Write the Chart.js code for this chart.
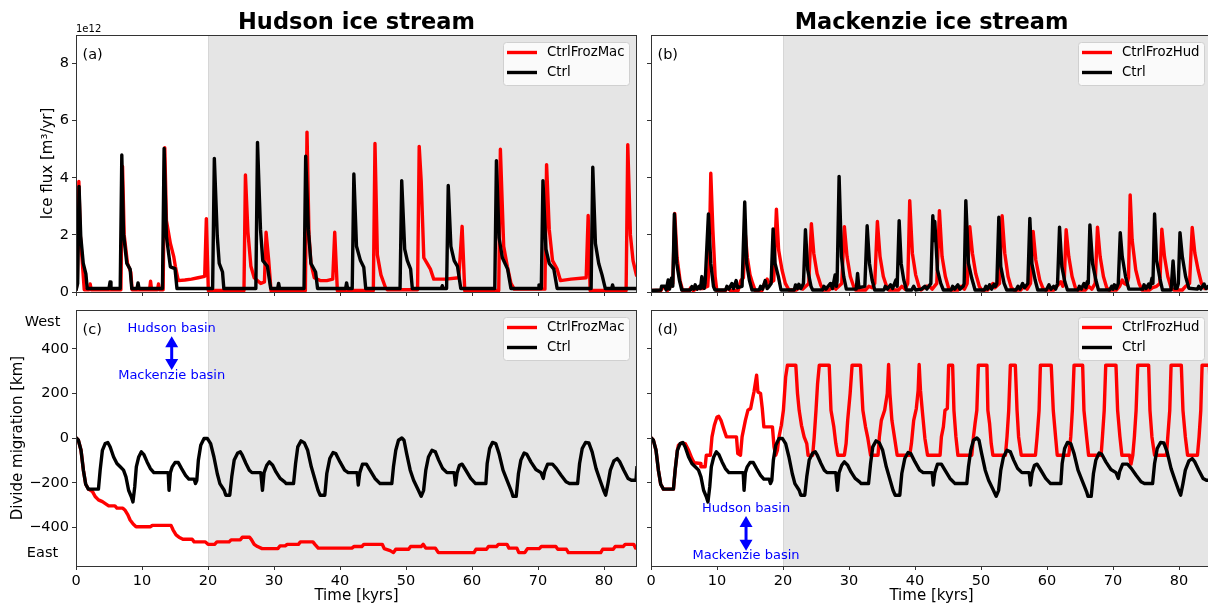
<!doctype html>
<html>
<head>
<meta charset="utf-8">
<title>Hudson and Mackenzie ice streams</title>
<script src="https://cdn.jsdelivr.net/npm/chart.js"></script>
<style>
html,body{margin:0;padding:0;background:#fff;overflow:hidden;width:1208px;height:605px}
canvas{position:absolute;left:0;top:0}
</style>
</head>
<body>
<canvas id="pa" width="1214" height="605"></canvas>
<canvas id="pb" width="1214" height="605"></canvas>
<canvas id="pc" width="1214" height="605"></canvas>
<canvas id="pd" width="1214" height="605"></canvas>
<script>
// time in kyrs, flux in 1e12 m3/yr, divide position in km
const hudFluxCtrl = [[0,0.05],[0.25,0.3],[0.46,3.7],[0.72,1.95],[1.1,1.0],[1.5,0.63],[1.7,0.12],
  [5.0,0.12],[5.16,0.35],[5.3,0.12],[6.7,0.12],[6.94,4.8],[7.2,2.05],[7.7,1.0],[8.2,0.8],[8.45,0.12],
  [9.25,0.12],[9.4,0.32],[9.55,0.12],[13.1,0.12],[13.35,5.03],[13.7,1.94],[14.3,0.88],[15.0,0.82],[15.3,0.12],
  [20.7,0.12],[20.96,4.68],[21.4,1.97],[21.7,1.0],[22.2,0.7],[22.4,0.12],
  [27.25,0.12],[27.5,5.24],[27.95,2.2],[28.3,1.1],[29.0,0.9],[29.5,0.12],[30.55,0.12],[30.7,0.3],[30.85,0.12],
  [34.55,0.12],[34.8,4.76],[35.2,2.2],[35.6,1.0],[36.3,0.7],[36.6,0.12],[40.85,0.12],[41.0,0.32],[41.15,0.12],
  [41.85,0.12],[42.1,4.13],[42.5,1.6],[43.1,1.1],[43.6,0.87],[43.9,0.12],
  [49.1,0.12],[49.35,3.9],[49.8,1.5],[50.2,1.1],[50.7,0.8],[50.96,0.12],[55.35,0.12],[55.5,0.22],[55.65,0.12],
  [56.15,0.12],[56.4,3.73],[56.8,1.6],[57.3,1.1],[57.8,0.9],[58.3,0.12],
  [63.45,0.12],[63.7,4.6],[64.1,1.9],[64.6,1.2],[65.4,0.8],[65.9,0.12],[70.0,0.12],[70.15,0.25],[70.3,0.12],
  [70.5,0.12],[70.75,3.9],[71.2,1.5],[71.7,1.0],[72.4,0.8],[72.9,0.12],
  [78.05,0.12],[78.3,4.37],[78.7,1.7],[79.2,1.0],[79.7,0.6],[80.2,0.12],[81.15,0.12],[81.3,0.25],[81.45,0.12],[85,0.12]];

const hudFluxFrozMac = [[0,0.05],[0.2,0.4],[0.43,3.87],[0.65,2.0],[0.9,1.2],[1.25,0.08],
  [2.0,0.08],[2.15,0.28],[2.3,0.08],[6.8,0.08],[7.05,4.4],[7.3,2.0],[7.8,1.0],[8.3,0.7],[8.5,0.08],
  [11.15,0.08],[11.3,0.38],[11.45,0.08],[12.35,0.08],[12.5,0.28],[12.65,0.08],
  [13.2,0.08],[13.45,5.05],[13.7,2.5],[14.3,1.7],[14.8,1.25],[15.05,0.9],[15.5,0.4],[16.5,0.42],[17.5,0.45],[18.5,0.5],[19.5,0.55],[19.75,2.57],[20.05,0.05],
  [25.45,0.05],[25.67,4.1],[26.05,2.1],[26.5,0.9],[27.0,0.5],[28.0,0.3],[28.55,0.35],[28.8,2.09],[29.2,1.1],[29.55,0.05],
  [34.75,0.05],[35.0,5.6],[35.3,2.0],[35.6,1.0],[36.1,0.5],[37.0,0.4],[38.0,0.4],[38.9,0.45],[39.2,2.09],[39.6,0.05],
  [45.05,0.05],[45.3,5.2],[45.66,1.3],[46.2,0.6],[46.9,0.15],[47.2,0.08],
  [51.75,0.08],[52.0,5.1],[52.3,3.9],[52.7,1.2],[53.2,1.0],[53.7,0.8],[54.2,0.45],[56.0,0.45],[58.0,0.5],[58.5,2.3],[58.9,0.05],
  [64.05,0.05],[64.3,5.0],[64.8,1.6],[65.35,0.9],[65.9,0.3],[66.4,0.1],
  [71.05,0.1],[71.3,4.46],[71.7,2.2],[72.2,1.1],[72.9,0.8],[73.4,0.4],[75.0,0.45],[77.3,0.5],[77.6,2.68],[77.9,0.05],
  [83.35,0.05],[83.6,5.16],[84.0,2.0],[84.4,1.1],[84.9,0.6],[85,0.55]];

const macFluxCtrl = [[0,0.05],[1.5,0.07],[1.6,0.2],[2.1,0.2],[2.3,0.07],[2.6,0.42],[2.8,0.1],[3.1,0.48],[3.3,0.2],[3.54,2.73],[3.9,1.0],[4.3,0.42],[4.66,0.07],
  [6.0,0.07],[6.2,0.19],[6.5,0.1],[6.7,0.25],[7.0,0.1],[7.3,0.2],[7.5,0.12],[7.7,0.54],[7.9,0.15],[8.05,0.13],[8.2,0.3],[8.7,2.73],[9.06,1.0],[9.47,0.19],[9.7,0.07],
  [11.3,0.07],[11.5,0.2],[11.8,0.1],[12.25,0.3],[12.5,0.12],[12.9,0.4],[13.1,0.15],[13.8,0.2],[14.2,3.15],[14.5,1.0],[14.9,0.42],[15.3,0.07],
  [16.4,0.07],[16.6,0.2],[16.9,0.1],[17.3,0.4],[17.6,0.12],[17.9,0.2],[18.2,0.3],[18.5,2.21],[18.8,1.0],[19.3,0.54],[19.7,0.07],
  [21.7,0.07],[21.9,0.25],[22.2,0.12],[22.4,0.27],[22.7,0.12],[23.1,0.3],[23.4,2.18],[23.75,0.77],[24.25,0.19],[24.5,0.07],
  [26.0,0.07],[26.2,0.2],[26.5,0.1],[27.2,0.3],[27.5,0.12],[27.9,0.6],[28.1,0.2],[28.2,0.4],[28.5,4.05],[28.86,1.24],[29.2,0.54],[29.6,0.1],
  [31.1,0.1],[31.3,0.65],[31.5,0.15],[32.4,0.2],[32.75,2.32],[33.1,1.0],[33.5,0.42],[33.9,0.07],
  [35.3,0.07],[35.5,0.2],[35.8,0.1],[36.3,0.25],[36.6,0.12],[37.1,0.42],[37.3,0.2],[37.6,2.5],[37.9,1.0],[38.3,0.42],[38.7,0.07],
  [39.5,0.07],[39.8,0.2],[40.1,0.07],[41.0,0.1],[41.5,0.2],[41.8,0.1],[42.4,0.3],[42.7,2.67],[42.85,1.8],[43.0,2.47],[43.4,0.77],[43.9,0.3],[44.3,0.07],
  [45.5,0.07],[45.7,0.2],[46.0,0.1],[46.5,0.25],[46.8,0.1],[47.3,0.2],[47.45,0.3],[47.7,3.2],[48.1,1.0],[48.6,0.48],[49.1,0.07],
  [50.5,0.07],[50.75,0.2],[51.0,0.1],[51.3,0.25],[51.6,0.1],[52.0,0.27],[52.2,0.2],[52.4,0.3],[52.7,2.62],[53.0,0.89],[53.5,0.3],[53.9,0.07],
  [55.3,0.07],[55.6,0.2],[55.9,0.1],[56.3,0.3],[56.6,0.15],[57.1,0.3],[57.4,2.58],[57.7,1.0],[58.2,0.42],[58.6,0.07],
  [59.9,0.07],[60.3,0.25],[60.6,0.1],[61.0,0.2],[61.3,0.1],[61.6,0.3],[61.9,2.27],[62.25,0.89],[62.7,0.36],[63.1,0.07],
  [64.7,0.07],[64.9,0.2],[65.2,0.1],[65.6,0.3],[65.9,0.15],[66.1,0.36],[66.25,0.3],[66.5,2.35],[66.9,1.0],[67.4,0.42],[67.8,0.07],
  [69.5,0.07],[69.8,0.2],[70.0,0.1],[70.2,0.25],[70.5,0.12],[70.8,0.3],[71.1,2.08],[71.4,1.24],[71.9,0.54],[72.4,0.1],
  [74.5,0.1],[74.7,0.25],[75.0,0.12],[75.4,0.28],[75.6,0.15],[75.9,0.48],[76.05,0.3],[76.3,2.73],[76.6,1.12],[77.1,0.48],[77.5,0.07],
  [78.8,0.07],[79.1,1.09],[79.4,0.13],[79.7,0.13],[79.9,0.3],[80.15,2.08],[80.5,1.24],[81.0,0.54],[81.5,0.13],
  [82.8,0.1],[83.0,0.2],[83.3,0.1],[83.8,0.28],[84.1,0.12],[84.45,0.2],[85,0.1]];

const macFluxFrozHud = [[0,0.05],[1.5,0.05],[1.7,0.15],[2.2,0.15],[2.5,0.05],[3.3,0.3],[3.6,2.75],[3.95,1.2],[4.4,0.4],[4.8,0.05],
  [5.8,0.05],[6.0,0.15],[6.4,0.05],[7.0,0.12],[7.8,0.12],[8.6,0.2],[8.8,1.0],[9.06,4.16],[9.37,2.2],[9.72,0.54],[9.97,0.05],
  [11.3,0.05],[11.6,0.15],[12.0,0.05],[13.2,0.05],[13.6,0.4],[14.0,0.5],[14.3,2.0],[14.6,1.2],[15.0,0.6],[15.4,0.3],[15.8,0.05],
  [16.8,0.05],[17.2,0.3],[17.6,0.45],[17.9,0.3],[18.6,0.4],[19.0,2.9],[19.34,1.47],[19.85,0.77],[20.35,0.3],[20.9,0.07],
  [22.0,0.07],[22.5,0.15],[23.0,0.1],[23.9,0.3],[24.3,2.39],[24.66,1.36],[25.16,0.65],[25.7,0.25],[26.1,0.07],
  [27.0,0.07],[27.6,0.2],[28.0,0.1],[28.9,0.3],[29.3,2.29],[29.7,1.24],[30.2,0.54],[30.7,0.19],[31.0,0.07],
  [32.5,0.07],[33.0,0.2],[33.5,0.15],[33.9,0.3],[34.3,2.47],[34.7,1.24],[35.2,0.54],[35.7,0.19],[36.0,0.07],
  [37.5,0.07],[38.0,0.2],[38.5,0.1],[38.9,0.3],[39.2,3.2],[39.6,1.36],[40.1,0.6],[40.6,0.19],[40.9,0.07],
  [41.7,0.2],[42.2,0.2],[42.6,0.1],[43.3,0.3],[43.7,2.85],[44.1,1.24],[44.6,0.54],[45.1,0.13],[45.5,0.07],
  [46.5,0.07],[47.0,0.2],[47.5,0.1],[47.9,0.3],[48.3,2.29],[48.7,1.36],[49.2,0.65],[49.75,0.19],[50.1,0.07],
  [51.0,0.07],[51.5,0.2],[51.8,0.3],[52.1,0.15],[52.8,0.3],[53.2,2.67],[53.6,1.36],[54.1,0.54],[54.6,0.15],[55.0,0.07],
  [56.0,0.07],[56.5,0.2],[57.0,0.1],[57.5,0.3],[57.9,2.12],[58.3,1.12],[58.9,0.42],[59.4,0.12],[59.8,0.07],
  [61.0,0.07],[61.5,0.2],[62.1,0.36],[62.4,0.2],[62.6,0.3],[62.9,2.18],[63.3,1.24],[63.8,0.54],[64.3,0.15],[64.7,0.07],
  [65.8,0.07],[66.3,0.2],[66.8,0.1],[67.3,0.3],[67.65,2.27],[68.05,1.24],[68.55,0.54],[69.05,0.15],[69.4,0.07],
  [70.5,0.07],[71.0,0.2],[71.4,0.42],[71.7,0.3],[72.1,0.25],[72.35,0.5],[72.6,3.4],[72.9,1.82],[73.45,0.77],[73.95,0.3],[74.4,0.07],
  [75.5,0.07],[76.0,0.15],[76.6,0.2],[77.1,0.3],[77.4,2.2],[77.8,1.24],[78.3,0.54],[78.8,0.15],[79.2,0.07],
  [80.5,0.07],[81.0,0.2],[81.6,0.3],[82.0,2.26],[82.4,1.36],[82.9,0.77],[83.4,0.3],[83.9,0.12],[84.5,0.15],[85,0.1]];

// Ctrl divide position is the same run in (c) and (d)
const divideCtrl = [[0,3],[0.36,-9],[0.76,-54],[1.12,-143],[1.47,-206],[1.88,-228],[3.4,-228],[3.66,-143],[4.0,-54],[4.42,-24],[4.82,-19],[5.18,-39],
  [5.7,-84],[6.2,-113],[6.7,-128],[7.2,-143],[7.57,-173],[7.97,-233],[8.38,-262],[8.63,-285],[8.9,-218],[9.14,-128],[9.5,-84],[9.9,-61],[10.26,-72],
  [10.77,-106],[11.27,-136],[11.8,-154],[13.97,-154],[14.1,-233],[14.3,-154],[14.58,-128],[15.0,-109],[15.5,-109],[16.0,-136],[16.6,-166],[17.1,-183],
  [17.9,-183],[18.1,-203],[18.3,-190],[18.54,-98],[18.9,-31],[19.4,-1],[19.9,-1],[20.4,-24],[20.9,-84],[21.4,-158],[21.8,-203],[22.45,-233],[22.7,-255],
  [23.3,-255],[23.6,-173],[23.97,-98],[24.5,-66],[24.9,-61],[25.2,-76],[25.75,-113],[26.26,-143],[26.66,-154],[28.0,-154],[28.25,-233],[28.5,-154],
  [28.9,-121],[29.3,-106],[29.8,-121],[30.3,-151],[30.93,-180],[31.6,-195],[31.85,-203],[32.96,-203],[33.27,-113],[33.6,-39],[34.1,-12],[34.6,-21],
  [35.1,-54],[35.65,-128],[36.16,-180],[36.67,-233],[37.0,-255],[37.7,-255],[38.0,-158],[38.45,-91],[38.95,-64],[39.36,-69],[40.0,-106],[40.7,-143],
  [41.24,-154],[42.6,-154],[42.77,-210],[43.0,-154],[43.4,-116],[44.0,-116],[44.54,-143],[45.3,-180],[46.07,-203],[47.85,-203],[48.1,-128],[48.45,-54],
  [48.86,-9],[49.37,1],[49.7,-9],[50.1,-69],[50.64,-143],[51.15,-188],[51.75,-225],[52.3,-260],[52.67,-233],[53.0,-143],[53.4,-84],[53.94,-54],
  [54.45,-61],[54.95,-98],[55.56,-136],[56.2,-154],[57.3,-154],[57.5,-210],[57.75,-154],[58.1,-121],[58.5,-116],[59.0,-140],[59.8,-180],[60.54,-203],
  [62.1,-203],[62.3,-113],[62.67,-46],[63.1,-19],[63.6,-24],[64.1,-69],[64.7,-143],[65.4,-195],[66.0,-240],[66.2,-260],[66.7,-260],[67.04,-158],
  [67.4,-98],[67.9,-66],[68.3,-72],[68.92,-106],[69.68,-140],[70.45,-154],[70.8,-180],[71.0,-150],[71.46,-116],[72.2,-116],[72.8,-136],[73.5,-166],
  [74.25,-195],[74.76,-203],[76.0,-203],[76.3,-113],[76.7,-46],[77.2,-19],[77.7,-21],[78.2,-61],[78.8,-136],[79.4,-188],[79.94,-233],[80.25,-255],
  [80.6,-203],[80.96,-143],[81.5,-101],[82.0,-91],[82.4,-106],[83.0,-143],[83.65,-180],[84.15,-188],[84.85,-188],[85,-125]];

const hudDivideFrozMac = [[0,3],[0.36,-9],[0.76,-54],[1.12,-143],[1.47,-206],[1.88,-228],[2.5,-239],[2.9,-261],[3.4,-276],[4.0,-284],[4.5,-294],
  [4.95,-303],[5.9,-303],[6.2,-313],[7.1,-313],[7.4,-321],[7.86,-343],[8.2,-366],[8.66,-384],[9.1,-396],[11.3,-396],[11.57,-390],[14.4,-390],
  [14.7,-410],[15.16,-433],[15.6,-443],[16.2,-452],[17.6,-452],[17.9,-464],[19.6,-464],[20.0,-475],[21.0,-475],[21.35,-464],[23.2,-464],[23.5,-455],
  [24.9,-455],[25.2,-443],[26.3,-443],[26.6,-455],[27.0,-475],[27.5,-485],[28.2,-494],[30.6,-494],[30.9,-482],[31.7,-482],[32.0,-475],[33.7,-475],
  [34.0,-464],[35.9,-464],[36.2,-475],[36.7,-492],[41.8,-492],[42.1,-485],[43.3,-485],[43.6,-475],[46.4,-475],[46.7,-494],[47.6,-503],[48.1,-512],
  [48.45,-497],[50.4,-497],[50.7,-485],[52.3,-485],[52.6,-475],[53.0,-492],[54.45,-492],[54.9,-512],[60.3,-512],[60.6,-497],[62.2,-497],[62.5,-485],
  [63.7,-485],[64.0,-475],[65.3,-475],[65.6,-492],[66.8,-492],[67.1,-512],[68.0,-512],[68.4,-494],[70.2,-494],[70.5,-485],[72.7,-485],[73.0,-497],
  [74.3,-497],[74.6,-512],[79.5,-512],[79.8,-497],[81.4,-497],[81.7,-485],[82.9,-485],[83.2,-475],[84.5,-475],[84.8,-492],[85,-492]];

const macDivideFrozHud = [[0,3],[0.36,-9],[0.76,-54],[1.12,-143],[1.47,-206],[1.88,-228],[3.4,-228],[3.66,-143],[4.0,-54],[4.16,-31],[4.67,-21],
  [5.18,-24],[5.7,-54],[6.2,-91],[6.55,-110],[7.5,-113],[7.57,-128],[8.2,-128],[8.38,-76],[9.0,-76],[9.24,6],[9.6,58],[10.0,95],[10.26,98],[10.6,80],
  [11.0,43],[11.43,6],[12.95,6],[13.15,-69],[13.56,-76],[13.8,6],[14.3,80],[14.68,125],[15.1,133],[15.34,170],[15.6,207],[16.0,282],[16.2,207],
  [16.6,200],[16.86,133],[17.1,51],[18.4,51],[18.64,-39],[18.9,-76],[19.15,-54],[19.4,6],[19.75,58],[20.06,125],[20.4,274],[20.67,327],[21.94,327],
  [22.2,200],[22.45,125],[22.8,58],[23.2,6],[23.6,-24],[23.8,-76],[24.5,-76],[24.73,6],[25.0,125],[25.24,245],[25.5,327],[27.0,327],[27.27,125],
  [27.7,51],[28.0,-24],[28.3,-76],[29.3,-76],[29.56,-24],[29.8,80],[30.17,200],[30.47,327],[31.74,327],[32.1,125],[32.5,51],[32.86,-1],[33.27,-76],
  [34.4,-76],[34.6,6],[34.9,80],[35.4,125],[35.8,200],[36.0,330],[36.2,200],[36.5,80],[36.92,-1],[37.3,-76],[39.2,-76],[39.46,-24],[39.8,80],
  [40.2,133],[40.48,215],[40.63,330],[40.83,215],[41.1,125],[41.5,-1],[41.9,-76],[43.8,-76],[44.0,6],[44.3,51],[44.54,125],[44.9,133],[45.1,327],
  [45.7,327],[45.9,125],[46.2,6],[46.5,-76],[48.6,-76],[48.86,6],[49.1,66],[49.37,125],[49.6,327],[50.9,327],[51.04,125],[51.3,66],[51.55,-24],
  [51.8,-76],[53.7,-76],[53.94,6],[54.2,125],[54.45,327],[55.2,327],[55.46,125],[55.7,6],[56.1,-76],[58.25,-76],[58.5,6],[58.8,125],[59.0,327],
  [60.64,327],[60.95,125],[61.3,6],[61.55,-76],[63.3,-76],[63.6,6],[63.84,125],[64.1,327],[65.4,327],[65.6,125],[66.0,6],[66.3,-76],[68.2,-76],
  [68.4,6],[68.67,125],[68.9,327],[70.45,327],[70.7,125],[71.05,6],[71.35,-76],[72.5,-76],[72.73,-116],[73.0,-76],[73.24,6],[73.5,125],[73.75,327],
  [75.4,327],[75.6,125],[75.9,6],[76.3,-76],[78.1,-76],[78.3,6],[78.6,125],[78.8,327],[80.35,327],[80.6,125],[80.96,6],[81.3,-76],[82.8,-76],
  [83.04,6],[83.3,125],[83.5,327],[84.6,327],[84.8,150],[85,-20]];

const xTicks = [0, 10, 20, 30, 40, 50, 60, 70, 80];
const fluxTicks = [0, 2, 4, 6, 8];
const divideTicks = [-400, -200, 0, 200, 400];
const frozenFrom = 20; // kyrs, start of the shaded interval

const FONT = 'DejaVu Sans';
const AX_W = 60, AX_H = 30, CW = 1214, CH = 605;
const LW = 3.4;
Chart.defaults.font.family = FONT;

function pts(arr) { return arr.map(p => ({ x: p[0], y: p[1] })); }
function minus(v) { return v < 0 ? '\u2212' + Math.abs(v) : String(v); }

function blueArrow(ctx, x, y1, y2) {
  const hl = 11, hw = 6.5;
  ctx.strokeStyle = ctx.fillStyle = '#0000ff';
  ctx.lineWidth = 3;
  ctx.beginPath(); ctx.moveTo(x, y1 + hl - 1); ctx.lineTo(x, y2 - hl + 1); ctx.stroke();
  ctx.beginPath(); ctx.moveTo(x, y1); ctx.lineTo(x - hw, y1 + hl); ctx.lineTo(x + hw, y1 + hl); ctx.closePath(); ctx.fill();
  ctx.beginPath(); ctx.moveTo(x, y2); ctx.lineTo(x - hw, y2 - hl); ctx.lineTo(x + hw, y2 - hl); ctx.closePath(); ctx.fill();
}

function panel(id, o) {
  const deco = {
    id: 'deco',
    beforeDatasetsDraw(chart) {
      const { ctx, chartArea: a, scales: { x } } = chart;
      const x20 = x.getPixelForValue(frozenFrom);
      ctx.save();
      ctx.fillStyle = '#e5e5e5';
      ctx.fillRect(x20, a.top, a.right - x20, a.bottom - a.top);
      ctx.strokeStyle = '#d6d6d6';
      ctx.lineWidth = 1;
      ctx.beginPath(); ctx.moveTo(Math.round(x20) + 0.5, a.top); ctx.lineTo(Math.round(x20) + 0.5, a.bottom); ctx.stroke();
      ctx.restore();
    },
    afterDraw(chart) {
      const { ctx, chartArea: a, scales: { x, y } } = chart;
      ctx.save();
      // spines
      ctx.strokeStyle = '#333';
      ctx.lineWidth = 1;
      ctx.strokeRect(a.left + 0.5, a.top + 0.5, a.right - a.left - 1, a.bottom - a.top);
      // panel tag
      ctx.fillStyle = '#000';
      ctx.font = '14.5px ' + FONT;
      ctx.textAlign = 'left';
      ctx.textBaseline = 'middle';
      ctx.fillText(o.tag, a.left + 6.5, a.top + 20);
      if (o.title) {
        ctx.font = 'bold 22.5px ' + FONT;
        ctx.textAlign = 'center';
        ctx.fillText(o.title, (a.left + a.right) / 2, a.top - 12);
      }
      if (o.offset) {
        ctx.font = '10px ' + FONT;
        ctx.textAlign = 'left';
        ctx.textBaseline = 'alphabetic';
        ctx.fillText(o.offset, a.left, a.top - 3);
      }
      if (o.xlabel) {
        ctx.font = '15px ' + FONT;
        ctx.textAlign = 'center';
        ctx.textBaseline = 'middle';
        ctx.fillText(o.xlabel, (a.left + a.right) / 2, a.bottom + 30);
      }
      if (o.ylabel) {
        ctx.save();
        ctx.translate(a.left - o.ylabelGap, (a.top + a.bottom) / 2);
        ctx.rotate(-Math.PI / 2);
        ctx.font = '15px ' + FONT;
        ctx.textAlign = 'center';
        ctx.textBaseline = 'middle';
        ctx.fillText(o.ylabel, 0, 0);
        ctx.restore();
      }
      if (o.sides) {
        ctx.font = '14.5px ' + FONT;
        ctx.textAlign = 'center';
        ctx.textBaseline = 'middle';
        o.sides.forEach(s => ctx.fillText(s.text, 42.5, y.getPixelForValue(s.y)));
      }
      if (o.note) {
        const n = o.note, px = x.getPixelForValue(n.x);
        ctx.font = '13px ' + FONT;
        ctx.fillStyle = '#0000ff';
        ctx.textAlign = 'center';
        ctx.textBaseline = 'middle';
        ctx.fillText('Hudson basin', px, y.getPixelForValue(n.top));
        ctx.fillText('Mackenzie basin', px, y.getPixelForValue(n.bottom));
        blueArrow(ctx, px, y.getPixelForValue(n.a1), y.getPixelForValue(n.a2));
      }
      // legend
      const bw = 126, bh = 43, bx = a.right - 134, by = a.top + 7;
      ctx.beginPath();
      ctx.roundRect(bx + 0.5, by + 0.5, bw, bh, 3);
      ctx.fillStyle = 'rgba(255,255,255,0.8)';
      ctx.fill();
      ctx.strokeStyle = '#d0d0d0';
      ctx.lineWidth = 1;
      ctx.stroke();
      ctx.font = '13.3px ' + FONT;
      ctx.textAlign = 'left';
      ctx.textBaseline = 'middle';
      o.series.forEach((s, i) => {
        const ly = by + 10.5 + i * 20;
        ctx.strokeStyle = s.color;
        ctx.lineWidth = LW;
        ctx.beginPath(); ctx.moveTo(bx + 4, ly); ctx.lineTo(bx + 34, ly); ctx.stroke();
        ctx.fillStyle = '#000';
        ctx.fillText(s.label, bx + 44, ly);
      });
      ctx.restore();
    }
  };

  const b = o.box;
  new Chart(document.getElementById(id), {
    type: 'line',
    data: {
      datasets: o.series.map(s => ({
        label: s.label,
        data: pts(s.data),
        borderColor: s.color,
        borderWidth: LW,
        borderJoinStyle: 'round',
        pointRadius: 0,
        tension: 0,
        fill: false,
        clip: 0,
        order: s.order
      }))
    },
    options: {
      responsive: false,
      animation: false,
      devicePixelRatio: 1,
      events: [],
      layout: { autoPadding: false, padding: { left: b.l - AX_W, right: CW - b.r, top: b.t, bottom: CH - b.b - AX_H } },
      plugins: { legend: { display: false }, tooltip: { enabled: false } },
      scales: {
        x: {
          type: 'linear', min: 0, max: 85,
          afterBuildTicks: s => { s.ticks = xTicks.map(v => ({ value: v })); },
          afterFit: s => { s.height = AX_H; },
          grid: { drawOnChartArea: false, drawTicks: true, tickLength: 4, color: '#333' },
          border: { display: false },
          ticks: { autoSkip: false, maxRotation: 0, padding: 3, color: '#000', font: { size: 14.5 },
                   callback: v => o.xLabels ? String(v) : '' }
        },
        y: {
          type: 'linear', min: o.yMin, max: o.yMax,
          afterBuildTicks: s => { s.ticks = o.yTicks.map(v => ({ value: v })); },
          afterFit: s => { s.width = AX_W; },
          grid: { drawOnChartArea: false, drawTicks: true, tickLength: 4, color: '#333' },
          border: { display: false },
          ticks: { padding: 3, color: '#000', font: { size: 14.5 },
                   callback: v => o.yLabels ? minus(v) : '' }
        }
      }
    },
    plugins: [deco]
  });
}

panel('pa', {
  box: { l: 76, r: 637, t: 35, b: 292 }, yMin: 0, yMax: 9, yTicks: fluxTicks,
  xLabels: false, yLabels: true, tag: '(a)', title: 'Hudson ice stream', offset: '1e12',
  ylabel: 'Ice flux [m\u00b3/yr]', ylabelGap: 28,
  series: [{ label: 'CtrlFrozMac', data: hudFluxFrozMac, color: '#ff0000', order: 1 },
           { label: 'Ctrl', data: hudFluxCtrl, color: '#000000', order: 0 }]
});
panel('pb', {
  box: { l: 651, r: 1212, t: 35, b: 292 }, yMin: 0, yMax: 9, yTicks: fluxTicks,
  xLabels: false, yLabels: false, tag: '(b)', title: 'Mackenzie ice stream',
  series: [{ label: 'CtrlFrozHud', data: macFluxFrozHud, color: '#ff0000', order: 1 },
           { label: 'Ctrl', data: macFluxCtrl, color: '#000000', order: 0 }]
});
panel('pc', {
  box: { l: 76, r: 637, t: 310, b: 566 }, yMin: -572, yMax: 574, yTicks: divideTicks,
  xLabels: true, yLabels: true, tag: '(c)', xlabel: 'Time [kyrs]',
  ylabel: 'Divide migration [km]', ylabelGap: 57.5,
  sides: [{ text: 'West', y: 520 }, { text: 'East', y: -513 }],
  note: { x: 14.5, top: 489, a1: 457, a2: 305, bottom: 278 },
  series: [{ label: 'CtrlFrozMac', data: hudDivideFrozMac, color: '#ff0000', order: 1 },
           { label: 'Ctrl', data: divideCtrl, color: '#000000', order: 0 }]
});
panel('pd', {
  box: { l: 651, r: 1212, t: 310, b: 566 }, yMin: -572, yMax: 574, yTicks: divideTicks,
  xLabels: true, yLabels: false, tag: '(d)', xlabel: 'Time [kyrs]',
  note: { x: 14.4, top: -317, a1: -348, a2: -504, bottom: -527 },
  series: [{ label: 'CtrlFrozHud', data: macDivideFrozHud, color: '#ff0000', order: 1 },
           { label: 'Ctrl', data: divideCtrl, color: '#000000', order: 0 }]
});
</script>
</body>
</html>
